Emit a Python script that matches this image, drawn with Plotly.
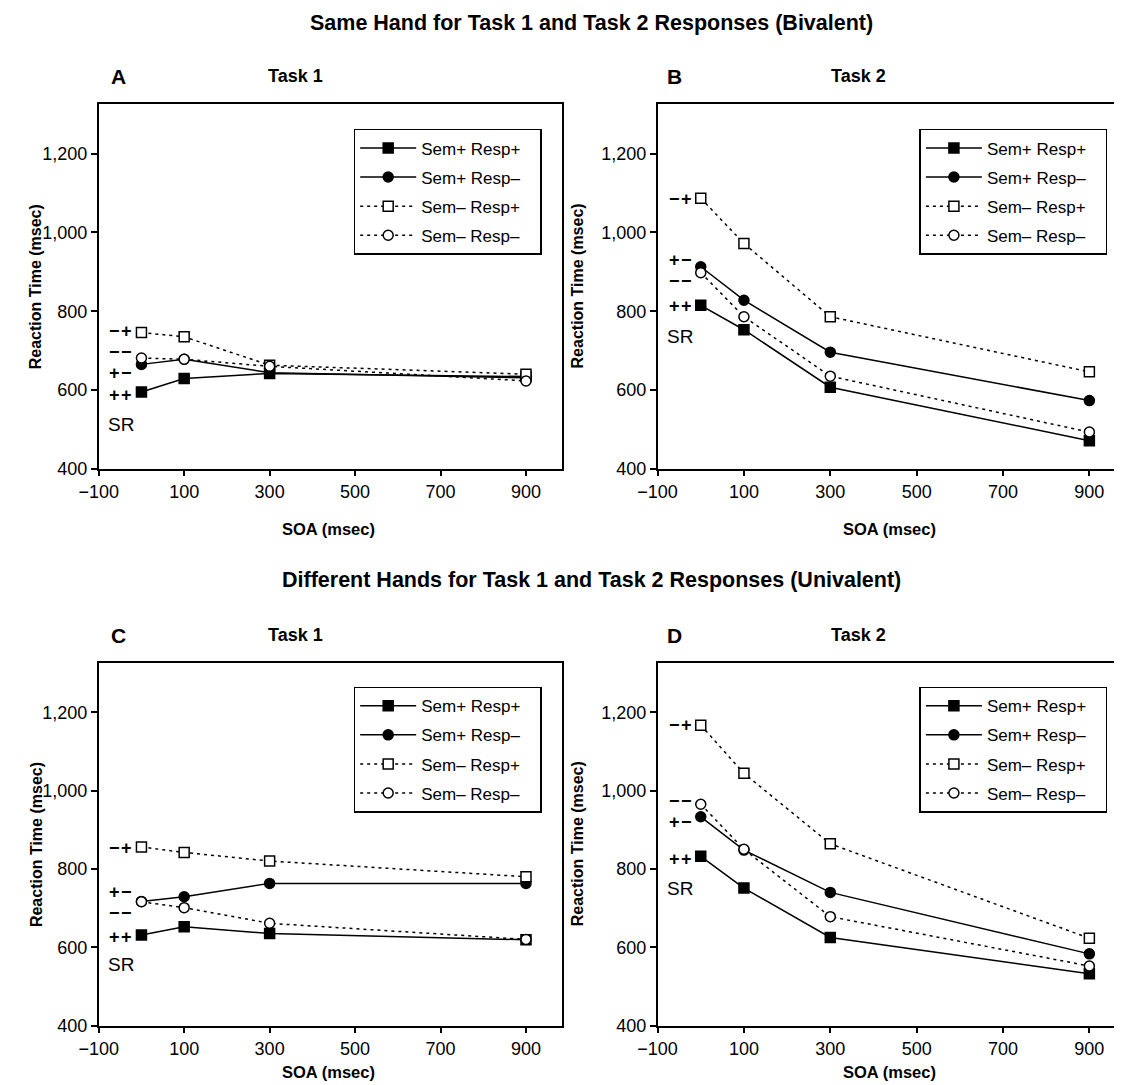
import plotly.graph_objects as go

# ---------------- data ----------------
soa = [0, 100, 300, 900]
series_names = ["Sem+ Resp+", "Sem+ Resp\u2013", "Sem\u2013 Resp+", "Sem\u2013 Resp\u2013"]

# Panel A: same hand, Task 1
A_pp = [595, 629, 642, 634]
A_pm = [665, 678, 644, 631]
A_mp = [746, 735, 663, 640]
A_mm = [681, 678, 660, 623]
# Panel B: same hand, Task 2
B_pp = [815, 753, 607, 471]
B_pm = [913, 828, 696, 573]
B_mp = [1087, 972, 786, 646]
B_mm = [898, 786, 635, 493]
# Panel C: different hands, Task 1
C_pp = [631, 652, 635, 619]
C_pm = [717, 729, 763, 763]
C_mp = [856, 842, 820, 780]
C_mm = [716, 701, 661, 620]
# Panel D: different hands, Task 2
D_pp = [832, 751, 625, 532]
D_pm = [933, 848, 740, 583]
D_mp = [1167, 1044, 864, 623]
D_mm = [965, 850, 678, 552]

# S-R compatibility labels (text, y value) per panel
label_text = ["\u2212\u200a+", "\u2212\u200a\u2212", "+\u200a\u2212", "+\u200a+", "SR"]
A_lab_y = [750, 696, 643, 586, 512]
B_lab_y = [1084, 876, 929, 812, 737]
C_lab_y = [854, 687, 740, 627, 557]
D_lab_y = [1167, 973, 920, 826, 750]

x_ticks = [-100, 100, 300, 500, 700, 900]
y_ticks = [400, 600, 800, 1000, 1200]
x_range = [-100, 985]
y_range = [400, 1326]

titles = ["Same Hand for Task 1 and Task 2 Responses (Bivalent)",
          "Different Hands for Task 1 and Task 2 Responses (Univalent)"]

# ---------------- layout helpers ----------------
W, H = 1122, 1085
FONT = "Liberation Sans, Arial, Helvetica, sans-serif"


def pxx(p):
    return p / W


def pxy(p):
    return 1 - p / H


panels = [
    dict(letter="A", task="Task 1", box=(72, 544, 97, 465), data=[A_pp, A_pm, A_mp, A_mm],
         laby=A_lab_y, leg=(523, 122), soa_dy=61, let_dx=20, task_dx=200, yt_dx=64),
    dict(letter="B", task="Task 2", box=(641, 1118, 97, 465), data=[B_pp, B_pm, B_mp, B_mm],
         laby=B_lab_y, leg=(1099, 122), soa_dy=61, let_dx=17, task_dx=205, yt_dx=82),
    dict(letter="C", task="Task 1", box=(72, 544, 661, 1027), data=[C_pp, C_pm, C_mp, C_mm],
         laby=C_lab_y, leg=(523, 685), soa_dy=47, let_dx=20, task_dx=200, yt_dx=64),
    dict(letter="D", task="Task 2", box=(641, 1118, 661, 1027), data=[D_pp, D_pm, D_mp, D_mm],
         laby=D_lab_y, leg=(1099, 685), soa_dy=47, let_dx=17, task_dx=205, yt_dx=82),
]

styles = [
    dict(symbol="square", fill="black", dash="solid"),
    dict(symbol="circle", fill="black", dash="solid"),
    dict(symbol="square", fill="white", dash="3px,4px"),
    dict(symbol="circle", fill="white", dash="3px,4px"),
]

fig = go.Figure()
annotations = []
layout = dict()


def ann(text, x, y, size, xref="paper", yref="paper", angle=0):
    return dict(text=text, x=x, y=y, xref=xref, yref=yref, showarrow=False,
                xanchor="center", yanchor="middle", textangle=angle,
                font=dict(size=size, color="black", family=FONT))


for i, p in enumerate(panels):
    n = "" if i == 0 else str(i + 1)
    xa, ya, lg = "x" + n, "y" + n, "legend" + n
    x0, x1, y0, y1 = p["box"]
    for k, (vals, st) in enumerate(zip(p["data"], styles)):
        fig.add_trace(go.Scatter(
            x=soa, y=vals, mode="lines+markers", name=series_names[k] + "\u00a0\u00a0\u00a0",
            line=dict(color="black", width=1.5, dash=st["dash"]),
            marker=dict(symbol=st["symbol"], size=10, color=st["fill"],
                        line=dict(color="black", width=1.5)),
            xaxis=xa, yaxis=ya, legend=lg, legendgroup=f"{p['letter']}{k}",
        ))
    layout["xaxis" + n] = dict(
        domain=[pxx(x0), pxx(x1)], range=x_range, tickvals=x_ticks,
        ticks="outside", ticklen=6, tickwidth=1.5, tickcolor="black",
        showline=True, linewidth=1.5, linecolor="black", mirror=True,
        showgrid=False, zeroline=False, anchor=ya,
        tickfont=dict(size=18, color="black", family=FONT),
    )
    layout["yaxis" + n] = dict(
        domain=[pxy(y1), pxy(y0)], range=y_range, tickvals=y_ticks, tickformat=",d",
        ticks="outside", ticklen=6, tickwidth=1.5, tickcolor="black",
        showline=True, linewidth=1.5, linecolor="black", mirror=True,
        showgrid=False, zeroline=False, anchor=xa,
        tickfont=dict(size=18, color="black", family=FONT),
    )
    lx, ly = p["leg"]
    layout[lg] = dict(
        x=pxx(lx), xanchor="right", y=pxy(ly), yanchor="top",
        bordercolor="black", borderwidth=1.5, bgcolor="white",
        font=dict(size=17, color="black", family=FONT),
        itemwidth=56, tracegroupgap=4, traceorder="grouped",
    )
    # panel letter and task title
    annotations.append(ann(f"<b>{p['letter']}</b>", pxx(x0 + p["let_dx"]), pxy(y0 - 28), 21))
    annotations.append(ann(f"<b>{p['task']}</b>", pxx(x0 + p["task_dx"]), pxy(y0 - 28), 18))
    # axis titles
    annotations.append(ann("<b>Reaction Time (msec)</b>", pxx(x0 - p["yt_dx"]), pxy((y0 + y1) / 2), 16,
                           angle=-90))
    annotations.append(ann("<b>SOA (msec)</b>", pxx((x0 + x1) / 2 - 2), pxy(y1 + p["soa_dy"]), 16.5))
    # S-R labels
    for t, yv in zip(label_text, p["laby"]):
        annotations.append(ann(t if t == "SR" else f"<b>{t}</b>", -48, yv,
                               19 if t == "SR" else 18, xref=xa, yref=ya))

annotations.append(ann(f"<b>{titles[0]}</b>", pxx(574), pxy(15), 21.5))
annotations.append(ann(f"<b>{titles[1]}</b>", pxx(574), pxy(577), 21.5))

fig.update_layout(
    width=W, height=H, margin=dict(l=0, r=0, t=0, b=0),
    paper_bgcolor="white", plot_bgcolor="white",
    font=dict(family=FONT, color="black"),
    annotations=annotations, **layout,
)

fig.write_html("out.html")
